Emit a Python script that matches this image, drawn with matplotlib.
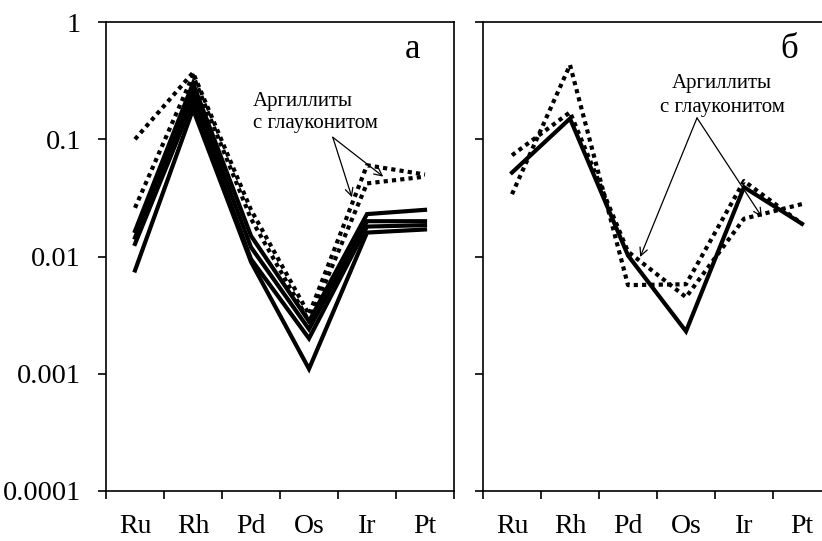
import matplotlib.pyplot as plt

elements = ['Ru', 'Rh', 'Pd', 'Os', 'Ir', 'Pt']

# panel a: solid lines
a_solid = [
    [0.0165, 0.30, 0.015, 0.0028, 0.023, 0.025],
    [0.0145, 0.25, 0.012, 0.0024, 0.020, 0.020],
    [0.0128, 0.21, 0.0095, 0.0020, 0.018, 0.0185],
    [0.0076, 0.18, 0.009, 0.0011, 0.016, 0.017],
]
# panel a: argillites with glauconite (dotted)
a_dotted = [
    [0.10, 0.37, 0.025, 0.0032, 0.060, 0.050],
    [0.026, 0.35, 0.021, 0.0028, 0.042, 0.048],
]

# panel б
b_solid = [
    [0.052, 0.15, 0.0102, 0.0023, 0.039, 0.019],
]
b_dotted = [
    [0.034, 0.43, 0.0057, 0.0058, 0.044, 0.019],
    [0.073, 0.17, 0.011, 0.0045, 0.021, 0.028],
]

yticks = [0.0001, 0.001, 0.01, 0.1, 1]
ytick_labels = ['0.0001', '0.001', '0.01', '0.1', '1']

plt.rcParams['font.family'] = ['Liberation Serif', 'DejaVu Serif']

W, H = 822, 541
fig = plt.figure(figsize=(W / 100, H / 100), dpi=100)

def px_axes(x0, top, bottom, width=348):
    return fig.add_axes([x0 / W, (H - bottom) / H, width / W, (bottom - top) / H])

ax1 = px_axes(106, 22, 491)
ax2 = px_axes(483, 22, 491)

xs = [i + 0.5 for i in range(len(elements))]

for ax in (ax1, ax2):
    ax.set_yscale('log')
    ax.set_ylim(1e-4, 1)
    ax.set_xlim(0, 6)
    for s in ax.spines.values():
        s.set_linewidth(1.2)
    ax.set_xticks(range(7))
    ax.set_xticklabels([])
    ax.set_xticks(xs, minor=True)
    ax.set_xticklabels(elements, minor=True, fontsize=20)
    ax.tick_params(axis='x', which='major', direction='out', length=6, width=1.2)
    ax.tick_params(axis='x', which='minor', length=0, pad=16.5)
    ax.set_yticks(yticks)
    ax.yaxis.set_minor_locator(plt.NullLocator())
    ax.tick_params(axis='y', direction='out', length=6, width=1.2, pad=12)
    ax.patch.set_alpha(0)

ax1.set_yticklabels(ytick_labels, fontsize=20.5)
ax2.set_yticklabels([])

def draw(ax, solid, dotted):
    for vals in solid:
        ax.plot(xs, vals, color='black', lw=3, solid_joinstyle='miter')
    for vals in dotted:
        ax.plot(xs, vals, color='black', lw=3, linestyle=(0, (1, 1)),
                dash_capstyle='butt')

draw(ax1, a_solid, a_dotted)
draw(ax2, b_solid, b_dotted)

arrow = dict(arrowstyle='->', lw=0.9, color='black', mutation_scale=14,
             shrinkA=0, shrinkB=0)

# panel a labels
ax1.text(0.882, 0.923, 'а', transform=ax1.transAxes, fontsize=25,
         ha='center', va='baseline')
ax1.text(2.53, 10 ** (-(106 - 22) / 117.25), 'Аргиллиты', fontsize=15,
         ha='left', va='baseline')
ax1.text(2.53, 10 ** (-(128 - 22) / 117.25), 'с глауконитом', fontsize=15,
         ha='left', va='baseline')
ax1.annotate('', xy=(4.24, 0.032), xytext=(3.91, 0.104), arrowprops=arrow)
ax1.annotate('', xy=(4.78, 0.048), xytext=(3.91, 0.104), arrowprops=arrow)

# panel б labels
ax2.text(0.879, 0.923, 'б', transform=ax2.transAxes, fontsize=25,
         ha='center', va='baseline')
ax2.text(4.12, 10 ** (-(88 - 22) / 117.25), 'Аргиллиты', fontsize=15,
         ha='center', va='baseline')
ax2.text(4.12, 10 ** (-(112 - 22) / 117.25), 'с глауконитом', fontsize=15,
         ha='center', va='baseline')
ax2.annotate('', xy=(2.71, 0.0099), xytext=(3.69, 0.152), arrowprops=arrow)
ax2.annotate('', xy=(4.81, 0.0217), xytext=(3.69, 0.152), arrowprops=arrow)

fig.savefig('out.png', dpi=100)
